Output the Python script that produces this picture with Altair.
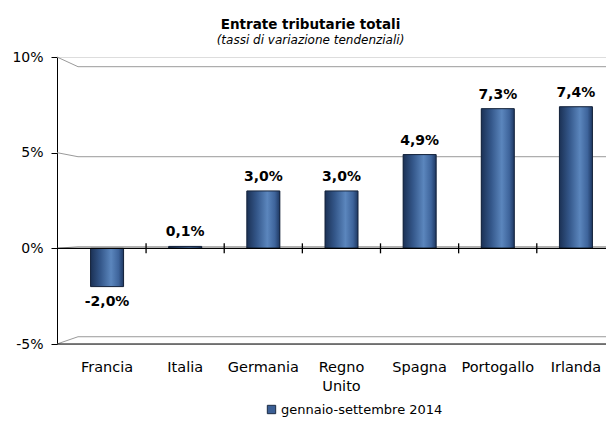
import altair as alt
import pandas as pd

countries = ["Francia", "Italia", "Germania", "Regno Unito", "Spagna", "Portogallo", "Irlanda"]
values = [-2.0, 0.1, 3.0, 3.0, 4.9, 7.3, 7.4]
series_name = "gennaio-settembre 2014"
y_ticks = [-5, 0, 5, 10]

FONT = "DejaVu Sans"

df = pd.DataFrame({"paese": countries, "valore": values, "serie": [series_name] * len(countries)})
grid_df = pd.DataFrame({"v": y_ticks})

x_enc = alt.X("paese:N", sort=countries,
              scale=alt.Scale(range=[11, 558], paddingInner=0, paddingOuter=0),
              axis=alt.Axis(title=None, labelFont=FONT, labelFontSize=14.5, labelColor="black",
                            labelAngle=0, ticks=False, domain=False, labelPadding=16,
                            labelLineHeight=19,
                            labelExpr="split(datum.label, ' ')"))
y_scale = alt.Scale(domain=[-5, 10], nice=False, zero=False)
y_axis = alt.Axis(title=None, values=y_ticks, labelExpr="datum.value + '%'",
                  labelFont=FONT, labelFontSize=14, labelColor="black", labelPadding=8,
                  tickSize=6, tickColor="black", domainColor="black", grid=False)

# back-wall projection of the gridlines (3D perspective)
back = "10 - (9.7 + (10 - datum.v) * 18) / 19.13"

base_grid = alt.Chart(grid_df).transform_calculate(vb=back)

back_lines = base_grid.mark_rule(color="#9a9a9a", strokeWidth=1).encode(
    x=alt.value(21), x2=alt.value(549),
    y=alt.Y("vb:Q", scale=y_scale, axis=y_axis),
)
diagonals = base_grid.mark_rule(color="#9a9a9a", strokeWidth=1).encode(
    x=alt.value(0), x2=alt.value(21),
    y=alt.Y("v:Q", scale=y_scale), y2="vb:Q",
)
right_diag = base_grid.transform_filter("datum.v == -5").mark_rule(color="#9a9a9a", strokeWidth=1).encode(
    x=alt.value(549), x2=alt.value(557),
    y=alt.Y("vb:Q", scale=y_scale), y2="v:Q",
)
front_lines = base_grid.transform_filter("datum.v == 0 || datum.v == -5").mark_rule(
    color="black", strokeWidth=1.2).encode(
    x=alt.value(0), x2=alt.value(557),
    y=alt.Y("v:Q", scale=y_scale),
)

base = alt.Chart(df)

ticks = base.mark_rule(color="black", strokeWidth=1.3, yOffset=-5, y2Offset=5, xOffset=39).encode(
    x=x_enc, y=alt.datum(0, scale=y_scale), y2=alt.datum(0),
)

legend_bars = base.mark_bar(size=33).encode(
    x=x_enc,
    y=alt.Y("valore:Q", scale=y_scale, axis=y_axis),
    y2=alt.datum(0),
    color=alt.Color("serie:N", scale=alt.Scale(range=["#3b5f95"]),
                    legend=alt.Legend(title=None, orient="none", legendX=208, legendY=346,
                                      symbolType="square", symbolSize=70,
                                      symbolStrokeColor="#1b2b44", symbolStrokeWidth=1,
                                      symbolOpacity=1, labelLimit=400,
                                      labelFont=FONT, labelFontSize=13, labelColor="black",
                                      labelOffset=3)),
)

grad = alt.LinearGradient(
    gradient="linear", x1=0, x2=1, y1=0, y2=0,
    stops=[
        alt.GradientStop(color="#1b3155", offset=0),
        alt.GradientStop(color="#34578a", offset=0.3),
        alt.GradientStop(color="#5b86bd", offset=0.62),
        alt.GradientStop(color="#3e649b", offset=0.85),
        alt.GradientStop(color="#1e3862", offset=1),
    ],
)
bars = base.mark_bar(size=33, fill=grad, stroke="#15233a", strokeWidth=1).encode(
    x=x_enc,
    y=alt.Y("valore:Q", scale=y_scale),
    y2=alt.datum(0),
)

lab_expr = "replace(replace(format(datum.valore, '.1f'), '.', ','), '\u2212', '-') + '%'"
pos_labels = base.transform_filter("datum.valore >= 0").transform_calculate(lab=lab_expr).mark_text(
    font=FONT, fontSize=14, fontWeight="bold", color="black", baseline="bottom", dy=-7
).encode(x=x_enc, y=alt.Y("valore:Q", scale=y_scale), text="lab:N")
neg_labels = base.transform_filter("datum.valore < 0").transform_calculate(lab=lab_expr).mark_text(
    font=FONT, fontSize=14, fontWeight="bold", color="black", baseline="top", dy=8
).encode(x=x_enc, y=alt.Y("valore:Q", scale=y_scale), text="lab:N")

chart = alt.layer(
    back_lines, diagonals, right_diag, legend_bars, bars, front_lines, ticks, pos_labels, neg_labels
).properties(
    width=549, height=287,
    title=alt.TitleParams(
        text="Entrate tributarie totali",
        subtitle="(tassi di variazione tendenziali)",
        font=FONT, fontSize=13.5, fontWeight="bold", color="black",
        subtitleFont=FONT, subtitleFontSize=12, subtitleFontStyle="italic", subtitleColor="black",
        subtitlePadding=4, anchor="middle", dx=-21, offset=4,
    ),
    autosize=alt.AutoSizeParams(type="none"),
    padding={"left": 49, "top": 49, "right": 0, "bottom": 74},
).configure_view(stroke=None).configure(background="white")

chart.save("out.html", embed_options={"renderer": "svg", "actions": False})
